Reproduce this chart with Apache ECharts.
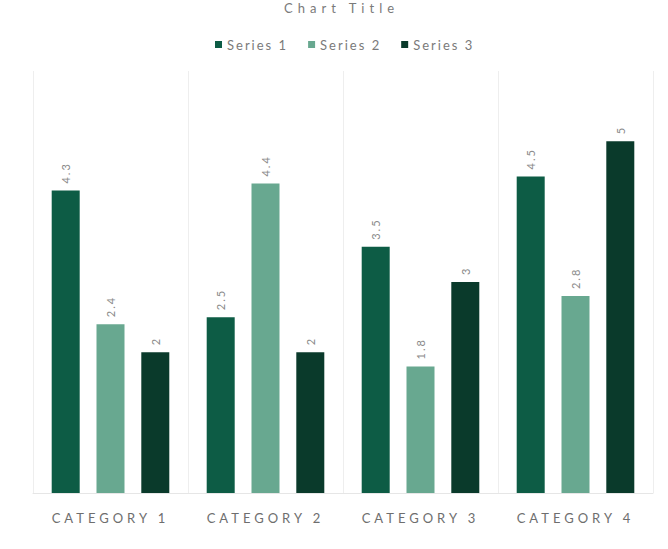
<!DOCTYPE html>
<html>
<head>
<meta charset="utf-8">
<script src="https://cdn.jsdelivr.net/npm/echarts@6/dist/echarts.min.js"></script>
<style>
html,body{margin:0;padding:0;background:#fff;}
#c{width:668px;height:549px;}
</style>
</head>
<body>
<div id="c"></div>
<script>
const categories = ['CATEGORY 1', 'CATEGORY 2', 'CATEGORY 3', 'CATEGORY 4'];
const seriesNames = ['Series 1', 'Series 2', 'Series 3'];
const series1 = [4.3, 2.5, 3.5, 4.5];
const series2 = [2.4, 4.4, 1.8, 2.8];
const series3 = [2, 2, 3, 5];
const colors = ['#0d5c45', '#68a890', '#0a3a2b'];
const titleText = 'Chart Title';

const chart = echarts.init(document.getElementById('c'), null, {renderer: 'svg'});
const fontFamily = 'Lato, "Open Sans", sans-serif';
const labelCfg = {
  show: true,
  position: 'top',
  rotate: 90,
  align: 'left',
  verticalAlign: 'middle',
  distance: 7,
  color: '#8a8a8a',
  fontSize: 11,
  fontFamily: fontFamily
};
function applySpacing() {
  document.querySelectorAll('#c svg text').forEach(function (t) {
    const s = t.textContent;
    if (s === titleText) t.style.letterSpacing = '5px';
    else if (categories.indexOf(s) >= 0) t.style.letterSpacing = '4px';
    else if (seriesNames.indexOf(s) >= 0) t.style.letterSpacing = '2px';
    else t.style.letterSpacing = '2px';
  });
}
chart.on('finished', applySpacing);
chart.setOption({
  animation: false,
  color: colors,
  title: {
    text: titleText,
    left: 284,
    top: 1,
    padding: 0,
    textStyle: {color: '#7a7a7a', fontSize: 13, fontWeight: 'normal', fontFamily: fontFamily}
  },
  legend: {
    top: 33,
    left: 210,
    icon: 'rect',
    itemWidth: 7,
    itemHeight: 7,
    itemGap: 36,
    textStyle: {color: '#7a7a7a', fontSize: 13, fontFamily: fontFamily},
    data: seriesNames
  },
  grid: {left: 33, right: 15, top: 71, bottom: 56},
  xAxis: {
    type: 'category',
    data: categories,
    axisLine: {lineStyle: {color: '#e6e6e6'}},
    axisTick: {show: false},
    splitLine: {show: true, lineStyle: {color: '#eeeeee'}},
    axisLabel: {color: '#6e6e6e', fontSize: 13, margin: 18, fontFamily: fontFamily}
  },
  yAxis: {
    type: 'value',
    min: 0,
    max: 6,
    interval: 1,
    show: false,
    splitLine: {show: false}
  },
  series: [
    {name: seriesNames[0], type: 'bar', data: series1, barWidth: 28, barGap: '60%', label: labelCfg},
    {name: seriesNames[1], type: 'bar', data: series2, barWidth: 28, barGap: '60%', label: labelCfg},
    {name: seriesNames[2], type: 'bar', data: series3, barWidth: 28, barGap: '60%', label: labelCfg}
  ]
});
applySpacing();
</script>
</body>
</html>
